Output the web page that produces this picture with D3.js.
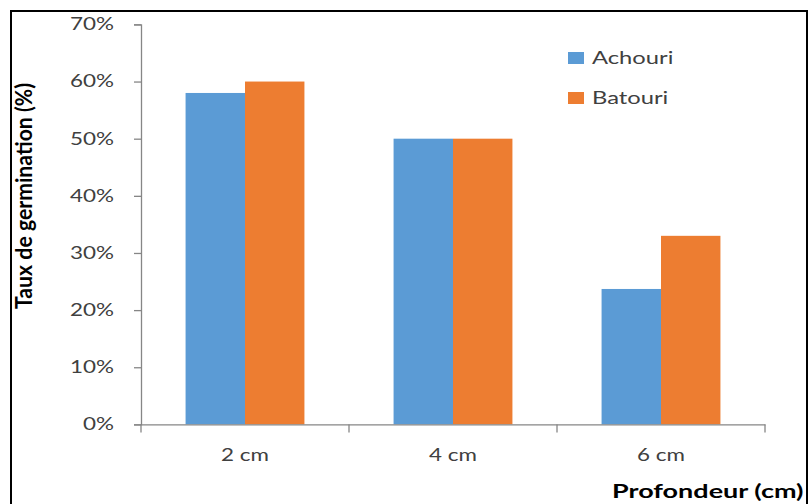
<!DOCTYPE html>
<html>
<head>
<meta charset="utf-8">
<script src="https://cdn.jsdelivr.net/npm/d3@7/dist/d3.min.js"></script>
<style>
  html, body { margin: 0; padding: 0; background: #fff; }
  svg { display: block; }
  text { font-family: Lato, "Open Sans", sans-serif; fill: #404040; }
</style>
</head>
<body>
<svg id="chart" width="809" height="504"></svg>
<script>
// Germination rate by sowing depth, two varieties
const categories = ["2 cm", "4 cm", "6 cm"];
const seriesNames = ["Achouri", "Batouri"];
const achouri = [0.58, 0.50, 0.237];
const batouri = [0.60, 0.50, 0.33];
const yTicks = [0, 0.1, 0.2, 0.3, 0.4, 0.5, 0.6, 0.7];
const colors = ["#5B9BD5", "#ED7D31"];

const svg = d3.select("#chart");
const sx = 1.32; // horizontal stretch applied to all labels

const plot = { left: 141, right: 765, top: 24.4, bottom: 424.4 };

const x = d3.scaleBand().domain(categories)
  .range([plot.left, plot.right]).paddingInner(0).paddingOuter(0);
const y = d3.scaleLinear().domain([0, 0.7]).range([plot.bottom, plot.top]);

const step = x.bandwidth();
const barW = step / 3.5;
const xs = d3.scaleBand().domain(seriesNames)
  .range([0, 2 * barW]);

const rows = categories.map((c, i) => ({ cat: c, vals: [achouri[i], batouri[i]] }));

const groups = svg.append("g").selectAll("g").data(rows).join("g")
  .attr("transform", d => `translate(${x(d.cat) + (step - 2 * barW) / 2},0)`);
groups.selectAll("rect")
  .data(d => d.vals.map((v, j) => ({ name: seriesNames[j], v, j })))
  .join("rect")
  .attr("x", d => xs(d.name))
  .attr("width", xs.bandwidth())
  .attr("y", d => y(d.v))
  .attr("height", d => y(0) - y(d.v))
  .attr("fill", d => colors[d.j]);

// y axis
const yAxis = svg.append("g")
  .attr("transform", `translate(${plot.left},0)`)
  .call(d3.axisLeft(y).tickValues(yTicks).tickSize(7).tickSizeOuter(7)
    .tickFormat(d3.format(".0%")));
yAxis.selectAll("path, line").attr("stroke", "#868686").attr("stroke-width", 1.3);
yAxis.selectAll("text").remove();
svg.append("g").selectAll("text").data(yTicks).join("text")
  .attr("transform", d => `translate(114,${y(d)}) scale(${sx},1)`)
  .attr("text-anchor", "end").attr("dy", "0.35em")
  .style("font-size", "17px")
  .text(d3.format(".0%"));

// x axis
const xAxis = svg.append("g")
  .attr("transform", `translate(0,${plot.bottom})`)
  .call(d3.axisBottom(x).tickSize(0).tickSizeOuter(0));
xAxis.selectAll("path").attr("stroke", "#868686").attr("stroke-width", 1.3);
xAxis.selectAll("text").remove();
xAxis.selectAll("line").remove();
const bounds = categories.map(c => x(c)).concat([plot.right]);
xAxis.selectAll("line.bound").data(bounds).join("line")
  .attr("class", "bound")
  .attr("x1", d => d).attr("x2", d => d)
  .attr("y1", 0).attr("y2", 8)
  .attr("stroke", "#868686").attr("stroke-width", 1.3);
svg.append("g").selectAll("text").data(categories).join("text")
  .attr("transform", d => `translate(${x(d) + step / 2},460.5) scale(${sx},1)`)
  .attr("text-anchor", "middle")
  .style("font-size", "17px")
  .text(d => d);

// axis titles
svg.append("text")
  .attr("transform", `translate(612,497.5) scale(1.42,1)`)
  .style("font-size", "19px").style("font-weight", "bold").style("fill", "#000")
  .text("Profondeur (cm)");
svg.append("text")
  .attr("transform", `translate(32,196) rotate(-90) scale(1.25,${sx})`)
  .attr("text-anchor", "middle")
  .style("font-size", "17px").style("font-weight", "bold").style("fill", "#000")
  .text("Taux de germination (%)");

// legend
const legend = svg.append("g").selectAll("g").data(seriesNames).join("g")
  .attr("transform", (d, i) => `translate(568,${52 + i * 40})`);
legend.append("rect")
  .attr("width", 16).attr("height", 12)
  .attr("fill", (d, i) => colors[i]);
legend.append("text")
  .attr("transform", `translate(24,12) scale(${sx},1)`)
  .style("font-size", "18px")
  .text(d => d);

// outer frame
svg.append("rect")
  .attr("x", 11).attr("y", 11)
  .attr("width", 796).attr("height", 520)
  .attr("fill", "none").attr("stroke", "#000").attr("stroke-width", 2);
</script>
</body>
</html>
